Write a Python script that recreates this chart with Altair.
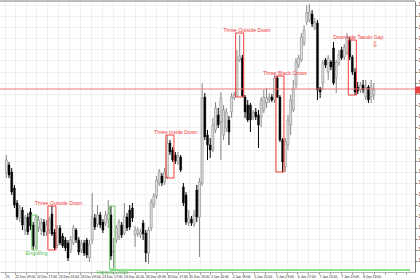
import json
import altair as alt
import pandas as pd

# ---------------- data ----------------
OPEN = [
    1.2327, 1.2335, 1.2328, 1.2312, 1.2297, 1.2282, 1.2290, 1.2270, 1.2283, 1.2288,
    1.2275, 1.2253, 1.2272, 1.2270, 1.2278, 1.2268, 1.2270, 1.2286, 1.2268, 1.2255,
    1.2272, 1.2264, 1.2260, 1.2257, 1.2250, 1.2257, 1.2270, 1.2260, 1.2250, 1.2257,
    1.2260, 1.2242, 1.2260, 1.2282, 1.2276, 1.2285, 1.2278, 1.2277, 1.2280, 1.2285,
    1.2248, 1.2260, 1.2263, 1.2275, 1.2267, 1.2283, 1.2290, 1.2292, 1.2265, 1.2266,
    1.2265, 1.2277, 1.2267, 1.2247, 1.2272, 1.2295, 1.2304, 1.2317, 1.2324, 1.2318,
    1.2323, 1.2357, 1.2350, 1.2345, 1.2338, 1.2343, 1.2313, 1.2305, 1.2277, 1.2281,
    1.2276, 1.2310, 1.2283, 1.2317, 1.2403, 1.2365, 1.2355, 1.2350, 1.2370, 1.2385,
    1.2378, 1.2365, 1.2372, 1.2380, 1.2388, 1.2402, 1.2404, 1.2440, 1.2442, 1.2403,
    1.2395, 1.2395, 1.2383, 1.2388, 1.2385, 1.2383, 1.2390, 1.2397, 1.2400, 1.2403,
    1.2400, 1.2422, 1.2403, 1.2360, 1.2333, 1.2355, 1.2375, 1.2390, 1.2415, 1.2435,
    1.2440, 1.2457, 1.2478, 1.2480, 1.2486, 1.2472, 1.2477, 1.2412, 1.2417, 1.2440,
    1.2428, 1.2438, 1.2452, 1.2422, 1.2437, 1.2450, 1.2443, 1.2447, 1.2460, 1.2443,
    1.2428, 1.2413, 1.2410, 1.2415, 1.2403, 1.2413, 1.2403, 1.2405,
]
CLOSE = [
    1.2340, 1.2325, 1.2308, 1.2295, 1.2283, 1.2292, 1.2275, 1.2282, 1.2268, 1.2274,
    1.2254, 1.2283, 1.2280, 1.2277, 1.2268, 1.2275, 1.2280, 1.2266, 1.2252, 1.2272,
    1.2257, 1.2254, 1.2252, 1.2242, 1.2260, 1.2272, 1.2260, 1.2248, 1.2256, 1.2247,
    1.2245, 1.2256, 1.2283, 1.2273, 1.2285, 1.2275, 1.2270, 1.2285, 1.2286, 1.2244,
    1.2249, 1.2272, 1.2278, 1.2265, 1.2284, 1.2272, 1.2273, 1.2282, 1.2270, 1.2270,
    1.2268, 1.2266, 1.2247, 1.2270, 1.2298, 1.2304, 1.2320, 1.2328, 1.2317, 1.2328,
    1.2357, 1.2348, 1.2340, 1.2339, 1.2344, 1.2330, 1.2297, 1.2278, 1.2282, 1.2277,
    1.2285, 1.2283, 1.2318, 1.2402, 1.2363, 1.2355, 1.2350, 1.2375, 1.2392, 1.2375,
    1.2402, 1.2390, 1.2388, 1.2368, 1.2403, 1.2405, 1.2440, 1.2444, 1.2404, 1.2388,
    1.2380, 1.2380, 1.2387, 1.2383, 1.2375, 1.2400, 1.2403, 1.2402, 1.2403, 1.2400,
    1.2422, 1.2403, 1.2360, 1.2338, 1.2358, 1.2380, 1.2400, 1.2412, 1.2438, 1.2442,
    1.2463, 1.2470, 1.2487, 1.2488, 1.2476, 1.2478, 1.2410, 1.2408, 1.2437, 1.2435,
    1.2442, 1.2433, 1.2417, 1.2438, 1.2445, 1.2442, 1.2453, 1.2463, 1.2443, 1.2428,
    1.2408, 1.2409, 1.2415, 1.2410, 1.2413, 1.2400, 1.2414, 1.2411,
]
HIGH = [
    1.2345, 1.2338, 1.2332, 1.2315, 1.2300, 1.2295, 1.2293, 1.2285, 1.2287, 1.2292,
    1.2278, 1.2285, 1.2284, 1.2282, 1.2281, 1.2280, 1.2283, 1.2294, 1.2271, 1.2275,
    1.2275, 1.2267, 1.2263, 1.2260, 1.2264, 1.2275, 1.2272, 1.2263, 1.2260, 1.2260,
    1.2262, 1.2260, 1.2307, 1.2286, 1.2295, 1.2288, 1.2281, 1.2289, 1.2300, 1.2294,
    1.2262, 1.2275, 1.2281, 1.2278, 1.2297, 1.2287, 1.2295, 1.2297, 1.2274, 1.2273,
    1.2271, 1.2280, 1.2270, 1.2273, 1.2301, 1.2307, 1.2324, 1.2331, 1.2327, 1.2332,
    1.2365, 1.2360, 1.2353, 1.2348, 1.2348, 1.2345, 1.2317, 1.2308, 1.2290, 1.2284,
    1.2290, 1.2315, 1.2322, 1.2417, 1.2407, 1.2370, 1.2362, 1.2382, 1.2398, 1.2392,
    1.2408, 1.2395, 1.2392, 1.2384, 1.2407, 1.2408, 1.2450, 1.2465, 1.2445, 1.2405,
    1.2400, 1.2397, 1.2390, 1.2392, 1.2390, 1.2403, 1.2410, 1.2412, 1.2407, 1.2406,
    1.2425, 1.2424, 1.2405, 1.2362, 1.2362, 1.2385, 1.2405, 1.2420, 1.2442, 1.2445,
    1.2467, 1.2475, 1.2495, 1.2496, 1.2490, 1.2482, 1.2480, 1.2413, 1.2440, 1.2442,
    1.2445, 1.2440, 1.2458, 1.2440, 1.2450, 1.2453, 1.2456, 1.2467, 1.2463, 1.2445,
    1.2432, 1.2418, 1.2418, 1.2420, 1.2420, 1.2415, 1.2420, 1.2417,
]
LOW = [
    1.2322, 1.2322, 1.2305, 1.2292, 1.2280, 1.2278, 1.2270, 1.2265, 1.2265, 1.2270,
    1.2250, 1.2251, 1.2268, 1.2265, 1.2264, 1.2264, 1.2266, 1.2264, 1.2250, 1.2252,
    1.2255, 1.2252, 1.2249, 1.2239, 1.2247, 1.2255, 1.2257, 1.2245, 1.2247, 1.2244,
    1.2242, 1.2238, 1.2256, 1.2270, 1.2273, 1.2272, 1.2267, 1.2274, 1.2272, 1.2240,
    1.2232, 1.2257, 1.2260, 1.2262, 1.2265, 1.2269, 1.2270, 1.2278, 1.2253, 1.2263,
    1.2262, 1.2260, 1.2238, 1.2236, 1.2269, 1.2292, 1.2301, 1.2314, 1.2314, 1.2315,
    1.2321, 1.2345, 1.2338, 1.2336, 1.2335, 1.2328, 1.2294, 1.2275, 1.2274, 1.2274,
    1.2273, 1.2278, 1.2243, 1.2314, 1.2360, 1.2340, 1.2342, 1.2348, 1.2367, 1.2372,
    1.2340, 1.2360, 1.2368, 1.2355, 1.2382, 1.2400, 1.2403, 1.2438, 1.2403, 1.2382,
    1.2378, 1.2368, 1.2380, 1.2380, 1.2352, 1.2373, 1.2387, 1.2392, 1.2397, 1.2398,
    1.2397, 1.2402, 1.2358, 1.2328, 1.2328, 1.2350, 1.2365, 1.2388, 1.2412, 1.2432,
    1.2438, 1.2454, 1.2475, 1.2478, 1.2473, 1.2470, 1.2400, 1.2402, 1.2410, 1.2432,
    1.2420, 1.2430, 1.2415, 1.2407, 1.2434, 1.2440, 1.2440, 1.2445, 1.2440, 1.2425,
    1.2405, 1.2406, 1.2407, 1.2407, 1.2400, 1.2397, 1.2397, 1.2400,
]

# time axis: bar positions of the labels and their texts
LABEL_POS = [-0.5, 3.1, 11.2, 19.4, 27.5, 35.6, 43.7, 51.8, 59.9, 68.0,
             76.1, 84.2, 92.3, 100.4, 108.5, 116.6, 124.7, 132.9]
LABELS = ["25", "22 Dec 09:00", "22 Dec 17:00", "23 Dec 01:00", "23 Dec 09:00",
          "23 Dec 17:00", "24 Dec 01:00", "30 Dec 09:00", "30 Dec 17:00",
          "31 Dec 13:00", "2 Jan 10:00", "2 Jan 18:00", "5 Jan 15:00",
          "5 Jan 23:00", "6 Jan 17:00", "7 Jan 13:00", "7 Jan 19:00", "8 Jan 13:00"]
GRID_MID = [7.2, 15.3, 23.4, 31.5, 39.6, 47.8, 55.9, 64.0, 72.1, 80.2,
            88.3, 96.4, 104.5, 112.6, 120.7, 128.8, 137.0, 141.0, 145.1, 149.1]

# price axis ticks
Y_TICKS = [1.24953, 1.24842, 1.24730, 1.24619, 1.24507, 1.24396, 1.24285, 1.24173,
           1.24062, 1.23950, 1.23839, 1.23728, 1.23616, 1.23505, 1.23393, 1.23282,
           1.23171, 1.23059, 1.22948, 1.22836, 1.22725, 1.22614, 1.22502, 1.22391]

X_DOMAIN = [-0.5, 150.5]
Y_DOMAIN = [1.2228, 1.2499]

BID = 1.2411
TAG_HI = 1.24135
TAG_LO = 1.24065
SUPPORT = 1.2230
SUPPORT_FROM = 38.5

# candlestick patterns
PAT_NAME = ["Engulfing", "Three Outside Down", "Harami Cross", "Three Inside Down",
            "Three Outside Down", "Three Black Crows", "Downside Tasuki Gap"]
PAT_KIND = ["bull", "bear", "bull", "bear", "bear", "bear", "bear"]
PAT_START = [10, 16, 39, 60, 86, 101, 128]
PAT_END = [11, 18, 40, 62, 88, 103, 130]
PAT_TOP = [1.2285, 1.2294, 1.2294, 1.2365, 1.2467, 1.2424, 1.2460]
PAT_BOTTOM = [1.2250, 1.2250, 1.2231, 1.2322, 1.2403, 1.2328, 1.2405]
PAT_LABEL_T = [11.3, 19.5, 39.5, 63.2, 89.7, 103.9, 131.2]
PAT_LABEL_P = [1.2247, 1.2297, 1.22285, 1.2368, 1.24705, 1.2427, 1.2463]
ARROW_T = [137.4]
ARROW_P = [1.2455]

# ---------------- styles ----------------
RED = "#f03c3c"
GREEN = "#6fd36f"
GRID = "#e2e2e2"
BULL_FILL = "#e4e4e4"
BULL_LINE = "#858585"
FONT = "Liberation Sans"

n = len(OPEN)
candles = pd.DataFrame({"t": list(range(n)), "open": OPEN, "high": HIGH,
                        "low": LOW, "close": CLOSE})
candles["dir"] = ["up" if c >= o else "down" for o, c in zip(OPEN, CLOSE)]
up = candles[candles["dir"] == "up"]
down = candles[candles["dir"] == "down"]

pats = pd.DataFrame({"name": PAT_NAME, "kind": PAT_KIND,
                     "x0": [s - 0.5 for s in PAT_START], "x1": [e + 0.5 for e in PAT_END],
                     "top": PAT_TOP, "bottom": PAT_BOTTOM,
                     "lt": PAT_LABEL_T, "lp": PAT_LABEL_P})
pats_bear = pats[pats["kind"] == "bear"]
pats_bull = pats[pats["kind"] == "bull"]

XS = alt.Scale(domain=X_DOMAIN, nice=False, zero=False)
YS = alt.Scale(domain=Y_DOMAIN, nice=False, zero=False)

pos_js = json.dumps(LABEL_POS)
lab_js = json.dumps(LABELS)
label_expr = (f"indexof({pos_js}, datum.value) >= 0 ? "
              f"{lab_js}[indexof({pos_js}, datum.value)] : ''")

X_AXIS = alt.Axis(values=sorted(LABEL_POS + GRID_MID), labelExpr=label_expr, title=None,
                  grid=True, gridColor=GRID, gridDash=[1, 1], domainColor="#b4b4b4",
                  tickColor="#8a8a8a", tickSize=2, labelFontSize=3.4, labelFont=FONT,
                  labelColor="#222222", labelAlign="left", labelBaseline="top",
                  labelPadding=0.5, labelOverlap=False, labelFlush=False)
Y_AXIS = alt.Axis(orient="right", values=Y_TICKS, format=".5f", title=None, grid=True,
                  gridColor=GRID, gridDash=[1, 1], domainColor="#7a7a7a",
                  tickColor="#7a7a7a", tickSize=2, labelFontSize=4.5, labelFont=FONT,
                  labelColor="#222222", labelPadding=1, labelOverlap=False,
                  labelFlush=False)


def X(field):
    return alt.X(field, scale=XS, axis=X_AXIS)


def Y(field):
    return alt.Y(field, scale=YS, axis=Y_AXIS)


wick_up = alt.Chart(up).mark_rule(color=BULL_LINE, strokeWidth=1).encode(
    x=X("t:Q"), y=Y("low:Q"), y2="high:Q")
wick_down = alt.Chart(down).mark_rule(color="#000000", strokeWidth=1).encode(
    x=X("t:Q"), y=Y("low:Q"), y2="high:Q")
body_up = alt.Chart(up).mark_bar(size=2, fill=BULL_FILL, stroke=BULL_LINE,
                                 strokeWidth=0.6).encode(
    x=X("t:Q"), y=Y("open:Q"), y2="close:Q")
body_down = alt.Chart(down).mark_bar(size=2, fill="#000000", stroke="#000000",
                                     strokeWidth=0.4).encode(
    x=X("t:Q"), y=Y("open:Q"), y2="close:Q")

bid_line = alt.Chart(pd.DataFrame({"p": [BID]})).mark_rule(
    color="#e87878", strokeWidth=1).encode(y=Y("p:Q"))
tag = alt.Chart(pd.DataFrame({"hi": [TAG_HI], "lo": [TAG_LO]})).mark_rect(
    color="#e84040").encode(x=alt.value(415), x2=alt.value(432), y=Y("hi:Q"), y2="lo:Q")
support = alt.Chart(pd.DataFrame({"a": [SUPPORT_FROM], "b": [X_DOMAIN[1]],
                                  "p": [SUPPORT]})).mark_rule(
    color="#8ee08e", strokeWidth=2).encode(x=X("a:Q"), x2="b:Q", y=Y("p:Q"))
top_line = alt.Chart(pd.DataFrame({"p": [Y_DOMAIN[1]]})).mark_rule(
    color="#a8a8a8", strokeWidth=1.5).encode(
    y=Y("p:Q"), x=alt.value(0), x2=alt.value(415))

box_bear = alt.Chart(pats_bear).mark_rect(fillOpacity=0, stroke=RED, strokeWidth=1).encode(
    x=X("x0:Q"), x2="x1:Q", y=Y("top:Q"), y2="bottom:Q")
box_bull = alt.Chart(pats_bull).mark_rect(fillOpacity=0, stroke=GREEN, strokeWidth=1).encode(
    x=X("x0:Q"), x2="x1:Q", y=Y("top:Q"), y2="bottom:Q")
txt_bear = alt.Chart(pats_bear).mark_text(font=FONT, fontSize=5.2, color=RED,
                                          baseline="middle").encode(
    x=X("lt:Q"), y=Y("lp:Q"), text="name:N")
txt_bull = alt.Chart(pats_bull).mark_text(font=FONT, fontSize=5.2, color="#4cc04c",
                                          baseline="middle").encode(
    x=X("lt:Q"), y=Y("lp:Q"), text="name:N")
arrow = alt.Chart(pd.DataFrame({"t": ARROW_T, "p": ARROW_P, "s": ["\u21e9"]})).mark_text(
    font="DejaVu Sans", fontSize=8, color=RED, baseline="middle").encode(
    x=X("t:Q"), y=Y("p:Q"), text="s:N")

chart = alt.layer(
    wick_up, wick_down, body_up, body_down, bid_line, tag, support,
    box_bear, box_bull, txt_bear, txt_bull, arrow, top_line,
).properties(
    width=415, height=271,
    autosize=alt.AutoSizeParams(type="none"),
    padding={"left": 0, "top": 1, "right": 5, "bottom": 8},
    background="#ffffff",
).configure_view(stroke=None)

chart.save("out.html", embed_options={"renderer": "svg", "actions": False})
